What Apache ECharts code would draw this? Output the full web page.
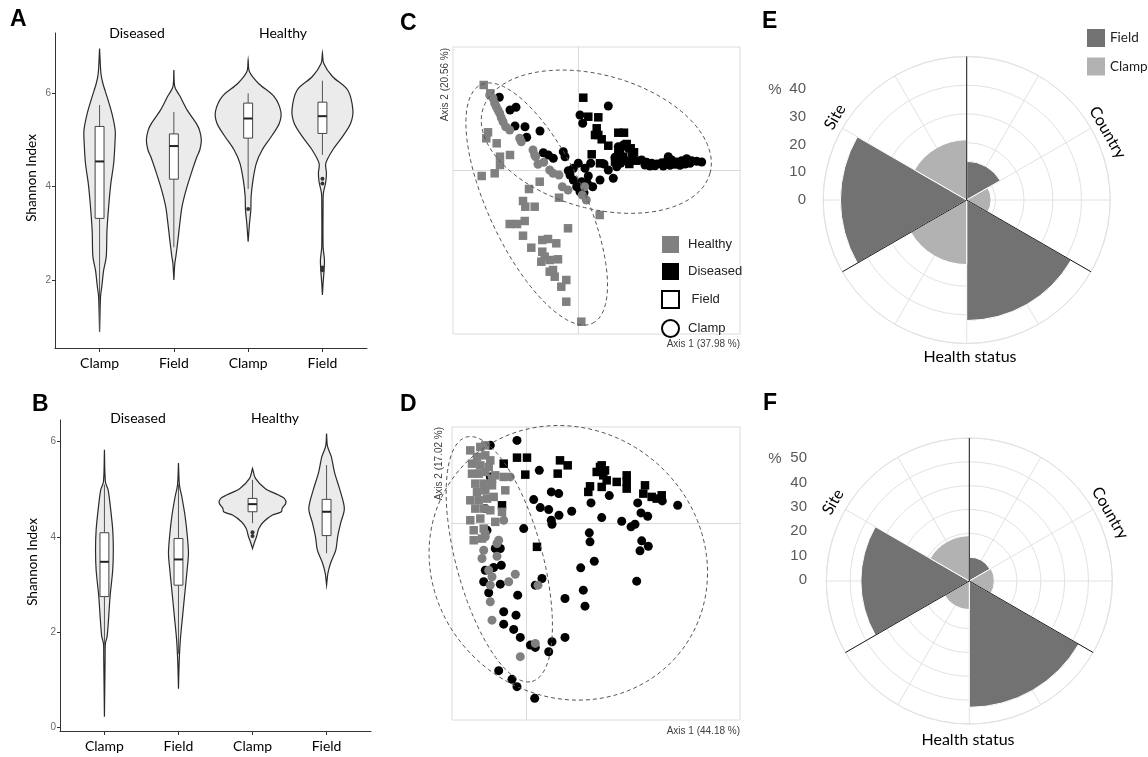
<!DOCTYPE html>
<html><head><meta charset="utf-8">
<script src="https://cdn.jsdelivr.net/npm/echarts@6/dist/echarts.min.js"></script>
<style>html,body{margin:0;padding:0;background:#fff}#c{width:1148px;height:757px}</style>
</head><body><div id="c"></div>
<script>
// ---------- Panels A / B : violins (value, half-width) ----------
const violinCategories = ['Clamp', 'Field', 'Clamp', 'Field'];
const violinPositions = [1, 2, 3, 4];

const violinA1 = [[0.89,0],[1.64,0.013],[1.86,0.03],[2.21,0.055],[2.5,0.09],[3.07,0.1],[3.64,0.126],[4.07,0.152],[4.5,0.19],[4.93,0.207],[5.21,0.21],[5.57,0.166],[5.93,0.1],[6.21,0.045],[6.43,0.018],[6.96,0]];
const violinA2 = [[2.0,0],[2.36,0.013],[2.5,0.027],[2.86,0.055],[3.21,0.08],[3.57,0.11],[3.93,0.165],[4.29,0.235],[4.64,0.31],[4.79,0.35],[5.0,0.37],[5.21,0.345],[5.36,0.3],[5.64,0.18],[5.93,0.085],[6.14,0.013],[6.5,0]];
const violinA3 = [[2.82,0],[3.21,0.018],[3.5,0.036],[3.79,0.04],[4.14,0.065],[4.5,0.11],[4.79,0.19],[5.07,0.31],[5.36,0.42],[5.61,0.44],[5.93,0.35],[6.21,0.14],[6.46,0.018],[6.71,0]];
const violinA4 = [[1.68,0],[1.93,0.009],[2.21,0.022],[2.43,0.027],[2.71,0.009],[3.64,0.009],[3.86,0.013],[4.1,0.045],[4.29,0.054],[4.5,0.045],[4.79,0.14],[5.07,0.27],[5.36,0.38],[5.64,0.41],[6.07,0.34],[6.36,0.135],[6.64,0.018],[6.86,0]];

const violinB1 = [[0.23,0],[1.42,0.009],[1.77,0.013],[1.91,0.036],[2.33,0.058],[2.75,0.076],[3.31,0.112],[3.73,0.12],[4.15,0.112],[4.57,0.085],[4.99,0.05],[5.16,0.013],[5.83,0]];
const violinB2 = [[0.82,0],[1.35,0.009],[1.84,0.025],[2.33,0.055],[2.89,0.09],[3.31,0.117],[3.66,0.135],[4.01,0.12],[4.43,0.09],[4.85,0.045],[5.09,0.013],[5.55,0]];
const violinB3 = [[3.76,0],[3.87,0.022],[4.01,0.055],[4.18,0.085],[4.32,0.15],[4.46,0.27],[4.53,0.39],[4.6,0.4],[4.71,0.45],[4.81,0.43],[4.88,0.35],[5.02,0.17],[5.23,0.04],[5.44,0]];
const violinB4 = [[2.99,0],[3.24,0.018],[3.45,0.054],[3.73,0.125],[4.01,0.15],[4.29,0.19],[4.6,0.24],[4.99,0.18],[5.34,0.11],[5.69,0.063],[5.9,0.013],[6.17,0]];

// box: [position, whiskerLow, Q1, median, Q3, whiskerHigh]
const boxA = [[1,0.9,3.32,4.54,5.29,5.75],[2,2.7,4.16,4.87,5.13,5.6],[3,3.95,5.04,5.46,5.79,6.0],[4,4.68,5.14,5.51,5.81,6.27]];
const outliersA = [[3,3.52],[4,4.17],[4,4.07],[4,2.27],[4,2.21]];
const boxB = [[1,1.5,2.75,3.48,4.09,5.1],[2,1.55,2.99,3.53,3.97,5.1],[3,4.29,4.53,4.69,4.81,5.2],[4,3.66,4.03,4.53,4.79,5.51]];
const outliersB = [[3,4.1],[3,4.02]];
const yTicksA = [2, 4, 6];
const yTicksB = [0, 2, 4, 6];

// ---------- Panel C : PCoA ----------
const cHealthyField = [[-0.943,0.85],[-0.877,0.767],[-0.9,0.377],[-0.917,0.317],[-0.813,0.267],[-0.78,0.133],[-0.68,0.15],[-0.78,0.05],[-0.833,-0.033],[-0.963,-0.06],[-0.383,-0.117],[-0.49,-0.19],[-0.55,-0.31],[-0.527,-0.367],[-0.433,-0.367],[-0.19,-0.277],[-0.1,-0.583],[-0.683,-0.54],[-0.61,-0.54],[-0.533,-0.51],[-0.55,-0.657],[-0.467,-0.777],[-0.357,-0.7],[-0.3,-0.69],[-0.217,-0.733],[-0.357,-0.817],[-0.367,-0.917],[-0.283,-0.9],[-0.2,-0.893],[-0.283,-1.017],[-0.233,-1.067],[-0.117,-1.1],[-0.167,-1.167],[-0.117,-1.317],[0.033,-1.517],[0.217,-0.45],[-0.25,-1.0],[-0.333,-0.867]];
const cHealthyClamp = [[-0.883,0.75],[-0.85,0.717],[-0.833,0.667],[-0.817,0.633],[-0.8,0.6],[-0.783,0.567],[-0.767,0.523],[-0.75,0.483],[-0.723,0.433],[-0.683,0.4],[-0.583,0.317],[-0.45,0.2],[-0.423,0.133],[-0.4,0.057],[-0.343,0.077],[-0.283,0],[-0.25,-0.033],[-0.19,-0.05],[-0.157,-0.167],[-0.1,-0.2],[0.043,-0.25],[0.083,-0.3],[0.067,-0.167],[-0.433,0.15],[-0.567,0.283]];
const cDiseasedField = [[0.053,0.723],[0.103,0.533],[0.203,0.527],[0.187,0.417],[0.203,0.35],[0.237,0.307],[0.403,0.373],[0.46,0.373],[0.303,0.243],[0.42,0.2],[0.487,0.26],[0.527,0.217],[0.56,0.177],[0.137,0.157],[0.22,0.067],[0.37,0.083],[0.403,0.167],[0.453,0.133],[0.513,0.06],[0.543,0.133],[0.58,0.093],[0.17,0.35]];
const cDiseasedClamp = [[-0.787,0.727],[-0.68,0.6],[-0.62,0.627],[-0.63,0.44],[-0.53,0.433],[-0.513,0.327],[-0.38,0.39],[-0.347,0.173],[-0.297,0.15],[-0.247,0.117],[-0.147,0.183],[-0.13,0.133],[-0.08,-0.05],[-0.047,-0.1],[-0.013,-0.167],[0.02,-0.217],[0.06,-0.227],[0.037,-0.117],[0.093,-0.133],[0.103,-0.06],[0.147,-0.167],[0.22,-0.1],[0.303,0],[0.353,-0.083],[0.387,0.033],[0.427,0.067],[0.46,0.107],[0.553,0.107],[0.303,0.64],[0.02,0.55],[0.047,0.467],[0.127,0.067],[0.003,0.067],[0.07,0.017],[0.26,0.06],[-0.047,0.017],[-0.097,-0.007],[0.637,0.1],[0.687,0.077],[0.737,0.067],[0.787,0.06],[0.837,0.073],[0.887,0.087],[0.937,0.1],[0.987,0.08],[1.037,0.093],[1.087,0.113],[1.137,0.093],[1.187,0.087],[1.237,0.08],[0.67,0.05],[0.72,0.04],[0.77,0.043],[0.853,0.04],[0.92,0.047],[0.97,0.057],[1.02,0.047],[1.07,0.06],[1.12,0.067],[0.903,0.133],[0.403,0.233],[0.453,0.25],[0.503,0.217],[0.42,0.16],[0.37,0.127]];
// ellipses: [centerX, centerY, semiMajor, semiMinor, angleDeg]
const cEllipses = [[-0.413,-0.34,1.317,0.483,-65],[0.183,0.283,1.18,0.667,-15.6]];

// ---------- Panel D : PCoA ----------
const dHealthyField = [[-0.557,0.733],[-0.457,0.767],[-0.407,0.783],[-0.49,0.667],[-0.407,0.683],[-0.357,0.633],[-0.54,0.6],[-0.457,0.583],[-0.373,0.567],[-0.54,0.5],[-0.473,0.5],[-0.407,0.517],[-0.307,0.483],[-0.223,0.467],[-0.507,0.4],[-0.423,0.4],[-0.34,0.383],[-0.49,0.317],[-0.407,0.333],[-0.557,0.233],[-0.473,0.233],[-0.39,0.25],[-0.323,0.267],[-0.207,0.333],[-0.507,0.15],[-0.423,0.15],[-0.357,0.133],[-0.557,0.033],[-0.457,0.05],[-0.307,0.017],[-0.523,-0.067],[-0.423,-0.05],[-0.523,-0.167],[-0.44,-0.15],[-0.24,0.117],[-0.34,0.45]];
const dHealthyClamp = [[-0.157,0.467],[-0.223,0.033],[-0.407,-0.133],[-0.29,-0.2],[-0.423,-0.267],[-0.44,-0.35],[-0.29,-0.327],[-0.373,-0.467],[-0.34,-0.533],[-0.173,-0.583],[-0.107,-0.507],[-0.357,-0.617],[-0.357,-0.783],[-0.34,-0.967],[-0.057,-1.333],[0.093,-1.2],[0.12,-0.617],[-0.407,-0.1],[-0.273,-0.167]];
const dDiseasedField = [[-0.09,0.66],[0.01,0.66],[0.34,0.633],[0.417,0.583],[0.317,0.5],[-0.223,0.6],[-0.007,0.49],[-0.24,0.183],[0.11,-0.233],[0.74,0.567],[0.79,0.533],[0.707,0.517],[1.007,0.483],[0.807,0.433],[0.64,0.373],[0.623,0.317],[0.757,0.367],[0.907,0.417],[1.007,0.417],[1.007,0.35],[1.19,0.383],[1.173,0.3],[1.257,0.267],[1.357,0.283],[1.307,0.25],[0.773,0.483],[0.757,0.583]];
const dDiseasedClamp = [[-0.09,0.833],[-0.357,0.783],[-0.357,0.467],[-0.407,0.15],[-0.39,-0.067],[-0.023,-0.05],[-0.307,-0.25],[-0.257,-0.25],[-0.407,-0.467],[-0.323,-0.44],[-0.247,-0.417],[-0.257,-0.607],[-0.373,-0.693],[-0.423,-0.583],[-0.083,-0.717],[0.16,-0.55],[0.093,-0.617],[-0.223,-0.883],[-0.1,-0.917],[-0.223,-1.007],[-0.123,-1.06],[-0.057,-1.14],[0.043,-1.217],[0.093,-1.24],[0.26,-1.183],[0.227,-1.283],[-0.273,-1.473],[-0.14,-1.56],[-0.09,-1.633],[0.087,-1.75],[0.077,0.24],[0.143,0.16],[0.227,0.14],[0.253,0.033],[0.26,-0.007],[0.133,0.533],[0.253,0.317],[0.327,0.3],[0.39,-0.75],[0.39,-1.14],[0.33,0.083],[0.457,0.123],[0.65,0.207],[0.757,0.06],[0.833,0.28],[0.957,0.023],[1.05,-0.033],[1.09,-0.007],[1.117,0.207],[1.15,0.107],[1.217,0.073],[1.363,0.227],[1.517,0.183],[0.633,-0.093],[0.64,-0.183],[0.683,-0.377],[0.547,-0.443],[1.107,-0.577],[1.157,-0.173],[1.223,-0.227],[1.14,-0.273],[0.573,-0.667],[0.59,-0.827]];
const dEllipses = [[-0.267,-0.357,1.267,0.433,-75],[0.423,-0.393,1.433,1.333,-40]];

// ---------- Panels E / F : polar bars (%) ----------
const polarCategories = ['Country Field','Country Clamp','Health status Field','Health status Clamp','Site Field','Site Clamp'];
const polarGroups = ['Country','Health status','Site'];
const eField = [13.5,'-',42,'-',44,'-'];
const eClamp = ['-',8.5,'-',22.5,'-',21];
const fField = [10,'-',53,'-',45.5,'-'];
const fClamp = ['-',10.5,'-',12,'-',19];
const spokeIds = ['s0','s1','s2','s3','s4','s5','s6','s7','s8','s9','s10','s11'];

// ---------- rendering helpers ----------
const violinsA = [violinA1, violinA2, violinA3, violinA4];
const violinsB = [violinB1, violinB2, violinB3, violinB4];
function violinRender(violins) {
  return function (params, api) {
    const shp = violins[params.dataIndex];
    const pos = api.value(0);
    const right = shp.map(p => api.coord([pos + p[1], p[0]]));
    const left = shp.slice().reverse().map(p => api.coord([pos - p[1], p[0]]));
    return {type: 'polygon', shape: {points: right.concat(left), smooth: 0.3},
      style: {fill: '#ebebeb', stroke: '#2a2a2a', lineWidth: 1.2}};
  };
}
function boxRender(params, api) {
  const pos = api.value(0), lo = api.value(1), q1 = api.value(2), med = api.value(3), q3 = api.value(4), hi = api.value(5);
  const hw = 0.06;
  const a = api.coord([pos, lo]), b = api.coord([pos, q1]), c = api.coord([pos, q3]), d = api.coord([pos, hi]);
  const tl = api.coord([pos - hw, q3]), br = api.coord([pos + hw, q1]);
  const ml = api.coord([pos - hw, med]), mr = api.coord([pos + hw, med]);
  return {type: 'group', children: [
    {type: 'line', shape: {x1: a[0], y1: a[1], x2: b[0], y2: b[1]}, style: {stroke: '#555', lineWidth: 1}},
    {type: 'line', shape: {x1: c[0], y1: c[1], x2: d[0], y2: d[1]}, style: {stroke: '#555', lineWidth: 1}},
    {type: 'rect', shape: {x: tl[0], y: tl[1], width: br[0] - tl[0], height: br[1] - tl[1]}, style: {fill: '#fff', stroke: '#444', lineWidth: 1}},
    {type: 'line', shape: {x1: ml[0], y1: ml[1], x2: mr[0], y2: mr[1]}, style: {stroke: '#222', lineWidth: 2}}
  ]};
}
function ellipseRender(params, api) {
  const cx = api.value(0), cy = api.value(1), a = api.value(2), b = api.value(3), ang = api.value(4) * Math.PI / 180;
  const pts = [];
  for (let k = 0; k < 120; k++) {
    const t = k / 120 * 2 * Math.PI;
    pts.push(api.coord([cx + a * Math.cos(t) * Math.cos(ang) - b * Math.sin(t) * Math.sin(ang),
                        cy + a * Math.cos(t) * Math.sin(ang) + b * Math.sin(t) * Math.cos(ang)]));
  }
  return {type: 'polygon', shape: {points: pts}, style: {fill: 'none', stroke: '#555', lineWidth: 1, lineDash: [4, 3]}};
}

const lato = 'Lato', arial = 'Liberation Sans';
function violinX(g) {
  return {gridIndex: g, type: 'value', min: 0.4, max: 4.6,
    axisLine: {show: true, onZero: false, lineStyle: {color: '#333'}},
    axisTick: {show: true, customValues: violinPositions, length: 4, lineStyle: {color: '#333'}},
    axisLabel: {customValues: violinPositions, formatter: v => violinCategories[Math.round(v) - 1], color: '#000', fontSize: 14, fontFamily: lato, margin: 8},
    splitLine: {show: false}};
}
function violinY(g, mn, mx, ticks) {
  return {gridIndex: g, type: 'value', min: mn, max: mx,
    axisLine: {show: true, onZero: false, lineStyle: {color: '#333'}},
    axisTick: {show: true, customValues: ticks, length: 3, lineStyle: {color: '#333'}},
    axisLabel: {customValues: ticks, color: '#6a6a78', fontSize: 10, fontFamily: arial, margin: 4},
    splitLine: {show: false}};
}
function pcoaAxis(g, mn, mx) {
  return {gridIndex: g, type: 'value', min: mn, max: mx,
    axisLine: {show: true, onZero: true, lineStyle: {color: '#d9d9d9'}},
    axisTick: {show: false}, axisLabel: {show: false}, splitLine: {show: false}};
}
function txt(x, y, text, font, opts) {
  opts = opts || {};
  return {type: 'text', x: x, y: y, rotation: opts.rot || 0, silent: true,
    style: {text: text, font: font, fill: opts.fill || '#000',
      align: opts.align || 'center', verticalAlign: 'middle',
      textAlign: opts.align || 'center', textVerticalAlign: 'middle'}};
}
const gray = '#808080';
const sqSize = 8.5, ciSize = 9;
function pts(g, data, symbol, color) {
  return {type: 'scatter', xAxisIndex: g, yAxisIndex: g, data: data, symbol: symbol,
    symbolSize: symbol === 'rect' ? sqSize : ciSize, itemStyle: {color: color, opacity: 1}, silent: true};
}

const option = {
  backgroundColor: '#fff',
  animation: false,
  grid: [
    {left: 55, top: 33, width: 312, height: 315},
    {left: 60, top: 420, width: 311, height: 311},
    {left: 453, top: 47, width: 287, height: 287, show: true, borderColor: '#dcdcdc', borderWidth: 1},
    {left: 452, top: 427, width: 288, height: 293, show: true, borderColor: '#dcdcdc', borderWidth: 1},
    {left: 806, top: 61.6, width: 10, height: 138.4},
    {left: 807, top: 434, width: 10, height: 146}
  ],
  xAxis: [
    violinX(0), violinX(1),
    pcoaAxis(2, -1.25, 1.62), pcoaAxis(3, -0.74, 2.14),
    {gridIndex: 4, type: 'value', show: false},
    {gridIndex: 5, type: 'value', show: false}
  ],
  yAxis: [
    violinY(0, 0.543, 7.292, yTicksA), violinY(1, -0.069, 6.455, yTicksB),
    pcoaAxis(2, -1.64, 1.23), pcoaAxis(3, -1.967, 0.967),
    {gridIndex: 4, type: 'value', min: 0, max: 50, interval: 10, axisLine: {show: false}, axisTick: {show: false}, splitLine: {show: false},
      axisLabel: {color: '#595959', fontSize: 15, fontFamily: arial, margin: 0, showMaxLabel: false}},
    {gridIndex: 5, type: 'value', min: 0, max: 60, interval: 10, axisLine: {show: false}, axisTick: {show: false}, splitLine: {show: false},
      axisLabel: {color: '#595959', fontSize: 15, fontFamily: arial, margin: 0, showMaxLabel: false}}
  ],
  polar: [
    {center: [966.7, 200], radius: 143.5}, {center: [966.7, 200], radius: 143.5}, {center: [966.7, 200], radius: 143.5},
    {center: [969.3, 581], radius: 143}, {center: [969.3, 581], radius: 143}, {center: [969.3, 581], radius: 143}
  ],
  angleAxis: [0, 3].flatMap(p => [
    {polarIndex: p, type: 'category', data: polarCategories, startAngle: 90, clockwise: true, boundaryGap: true,
      axisLine: {show: false}, axisTick: {show: false}, axisLabel: {show: false}, splitLine: {show: false}},
    {polarIndex: p + 1, type: 'category', data: spokeIds, startAngle: 90, clockwise: true, boundaryGap: true,
      axisLine: {show: true, lineStyle: {color: '#e2e2e2'}}, axisTick: {show: false}, axisLabel: {show: false},
      splitLine: {show: true, interval: 0, lineStyle: {color: '#e2e2e2'}}},
    {polarIndex: p + 2, type: 'category', data: polarGroups, startAngle: 90, clockwise: true, boundaryGap: true, z: 10,
      axisLine: {show: false}, axisTick: {show: false}, axisLabel: {show: false},
      splitLine: {show: true, interval: 0, lineStyle: {color: '#1a1a1a', width: 1}}}
  ]),
  radiusAxis: [
    {polarIndex: 0, type: 'value', min: 0, max: 50, interval: 10, axisLine: {show: false}, axisTick: {show: false}, axisLabel: {show: false}, splitLine: {show: true, lineStyle: {color: '#e2e2e2'}}},
    {polarIndex: 1, type: 'value', show: false},
    {polarIndex: 2, type: 'value', show: false},
    {polarIndex: 3, type: 'value', min: 0, max: 60, interval: 10, axisLine: {show: false}, axisTick: {show: false}, axisLabel: {show: false}, splitLine: {show: true, lineStyle: {color: '#e2e2e2'}}},
    {polarIndex: 4, type: 'value', show: false},
    {polarIndex: 5, type: 'value', show: false}
  ],
  legend: [
    {data: [{name: 'Healthy', icon: 'rect'}, {name: 'Diseased', icon: 'rect'}, {name: ' Field', icon: 'rect'}, {name: 'Clamp ', icon: 'circle'}],
      left: 656, top: 231, orient: 'vertical', itemWidth: 17, itemHeight: 17, itemGap: 10, selectedMode: false,
      textStyle: {fontFamily: arial, fontSize: 13, color: '#222', padding: [0, 0, 0, 4]}},
    {data: ['Field', 'Clamp'], left: 1082, top: 24, orient: 'vertical', itemWidth: 18, itemHeight: 18, itemGap: 10.5, icon: 'rect', selectedMode: false,
      itemStyle: {borderWidth: 0}, textStyle: {fontFamily: lato, fontSize: 13.5, color: '#222'}}
  ],
  series: [
    // A
    {type: 'custom', xAxisIndex: 0, yAxisIndex: 0, renderItem: violinRender(violinsA), data: violinPositions.map(p => [p, 4]), encode: {x: 0, y: 1}, silent: true},
    {type: 'custom', xAxisIndex: 0, yAxisIndex: 0, renderItem: boxRender, data: boxA, encode: {x: 0, y: [1, 2, 3, 4, 5]}, silent: true, z: 3},
    {type: 'scatter', xAxisIndex: 0, yAxisIndex: 0, data: outliersA, symbolSize: 4, itemStyle: {color: '#333', opacity: 1}, silent: true, z: 4},
    // B
    {type: 'custom', xAxisIndex: 1, yAxisIndex: 1, renderItem: violinRender(violinsB), data: violinPositions.map(p => [p, 4]), encode: {x: 0, y: 1}, silent: true},
    {type: 'custom', xAxisIndex: 1, yAxisIndex: 1, renderItem: boxRender, data: boxB, encode: {x: 0, y: [1, 2, 3, 4, 5]}, silent: true, z: 3},
    {type: 'scatter', xAxisIndex: 1, yAxisIndex: 1, data: outliersB, symbolSize: 4, itemStyle: {color: '#333', opacity: 1}, silent: true, z: 4},
    // C
    pts(2, cDiseasedClamp, 'circle', '#000'),
    pts(2, cDiseasedField, 'rect', '#000'),
    pts(2, cHealthyField, 'rect', gray),
    pts(2, cHealthyClamp, 'circle', gray),
    {type: 'custom', xAxisIndex: 2, yAxisIndex: 2, renderItem: ellipseRender, data: cEllipses, encode: {x: 0, y: 1}, silent: true, z: 5},
    // C legend entries
    {type: 'scatter', name: 'Healthy', xAxisIndex: 2, yAxisIndex: 2, data: [], symbol: 'rect', itemStyle: {color: gray, opacity: 1}},
    {type: 'scatter', name: 'Diseased', xAxisIndex: 2, yAxisIndex: 2, data: [], symbol: 'rect', itemStyle: {color: '#000', opacity: 1}},
    {type: 'scatter', name: ' Field', xAxisIndex: 2, yAxisIndex: 2, data: [], symbol: 'rect', itemStyle: {color: '#fff', borderColor: '#000', borderWidth: 1.5, opacity: 1}},
    {type: 'scatter', name: 'Clamp ', xAxisIndex: 2, yAxisIndex: 2, data: [], symbol: 'circle', itemStyle: {color: '#fff', borderColor: '#000', borderWidth: 1.5, opacity: 1}},
    // D
    pts(3, dDiseasedClamp, 'circle', '#000'),
    pts(3, dDiseasedField, 'rect', '#000'),
    pts(3, dHealthyField, 'rect', gray),
    pts(3, dHealthyClamp, 'circle', gray),
    {type: 'custom', xAxisIndex: 3, yAxisIndex: 3, renderItem: ellipseRender, data: dEllipses, encode: {x: 0, y: 1}, silent: true, z: 5},
    // E
    {type: 'bar', name: 'Field', coordinateSystem: 'polar', polarIndex: 0, stack: 'e', data: eField, barCategoryGap: '0%', itemStyle: {color: '#727272', borderColor: '#fff', borderWidth: 1}, silent: true},
    {type: 'bar', name: 'Clamp', coordinateSystem: 'polar', polarIndex: 0, stack: 'e', data: eClamp, barCategoryGap: '0%', itemStyle: {color: '#b2b2b2', borderColor: '#fff', borderWidth: 1}, silent: true},
    // F
    {type: 'bar', name: 'Field', coordinateSystem: 'polar', polarIndex: 3, stack: 'f', data: fField, barCategoryGap: '0%', itemStyle: {color: '#727272', borderColor: '#fff', borderWidth: 1}, silent: true},
    {type: 'bar', name: 'Clamp', coordinateSystem: 'polar', polarIndex: 3, stack: 'f', data: fClamp, barCategoryGap: '0%', itemStyle: {color: '#b2b2b2', borderColor: '#fff', borderWidth: 1}, silent: true}
  ],
  graphic: {elements: [
    txt(10, 20, 'A', 'bold 23px "Liberation Sans"', {align: 'left'}),
    txt(32, 405, 'B', 'bold 23px "Liberation Sans"', {align: 'left'}),
    txt(400, 24, 'C', 'bold 23px "Liberation Sans"', {align: 'left'}),
    txt(400, 405, 'D', 'bold 23px "Liberation Sans"', {align: 'left'}),
    txt(762, 22, 'E', 'bold 23px "Liberation Sans"', {align: 'left'}),
    txt(763, 404, 'F', 'bold 23px "Liberation Sans"', {align: 'left'}),
    txt(137, 33, 'Diseased', '14px Lato'),
    txt(283, 33, 'Healthy', '14px Lato'),
    txt(138, 418, 'Diseased', '14px Lato'),
    txt(275, 418, 'Healthy', '14px Lato'),
    txt(32, 178, 'Shannon Index', '13.5px Lato', {rot: Math.PI / 2}),
    txt(33, 562, 'Shannon Index', '13.5px Lato', {rot: Math.PI / 2}),
    txt(740, 344, 'Axis 1 (37.98 %)', '10px "Liberation Sans"', {align: 'right', fill: '#404040'}),
    txt(445, 48, 'Axis 2 (20.56 %)', '10px "Liberation Sans"', {align: 'right', fill: '#404040', rot: Math.PI / 2}),
    txt(740, 731, 'Axis 1 (44.18 %)', '10px "Liberation Sans"', {align: 'right', fill: '#404040'}),
    txt(439, 427, 'Axis 2 (17.02 %)', '10px "Liberation Sans"', {align: 'right', fill: '#404040', rot: Math.PI / 2}),
    txt(775, 90, '%', '15px "Liberation Sans"', {fill: '#595959'}),
    txt(775, 459, '%', '15px "Liberation Sans"', {fill: '#595959'}),
    txt(1107.5, 132.5, 'Country', '16px Lato', {rot: -Math.PI / 3}),
    txt(835, 117, 'Site', '16px Lato', {rot: Math.PI / 3}),
    txt(970, 357, 'Health status', '16px Lato'),
    txt(1110, 513, 'Country', '16px Lato', {rot: -Math.PI / 3}),
    txt(833, 502, 'Site', '16px Lato', {rot: Math.PI / 3}),
    txt(968, 740, 'Health status', '16px Lato')
  ]}
};
const chart = echarts.init(document.getElementById('c'), null, {renderer: 'canvas'});
chart.setOption(option);
</script></body></html>
